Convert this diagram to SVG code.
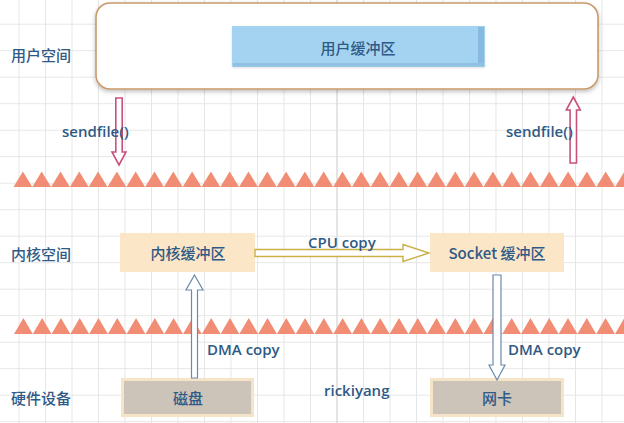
<svg xmlns="http://www.w3.org/2000/svg" width="624" height="423" viewBox="0 0 624 423">
<defs>
<pattern id="grid" patternUnits="userSpaceOnUse" x="18.5" y="-2.8" width="26.5" height="26.5">
<path d="M0.5 0V26.5M0 0.5H26.5" stroke="#e6e6e6" stroke-width="1" fill="none"/>
</pattern>
<filter id="sh" x="-5%" y="-10%" width="110%" height="130%">
<feDropShadow dx="0" dy="2" stdDeviation="2" flood-color="#000" flood-opacity="0.25"/>
</filter>
<filter id="sh2" x="-5%" y="-10%" width="110%" height="130%">
<feDropShadow dx="0" dy="1" stdDeviation="1" flood-color="#000" flood-opacity="0.12"/>
</filter>
</defs>
<style>
text{font-family:"Open Sans","Noto Sans CJK SC",sans-serif;fill:#2f5a85;font-size:15px}
.cn{font-family:"Noto Sans CJK SC",sans-serif;font-weight:500;font-size:15px}
.en{font-weight:600;font-size:15px}
.mid{text-anchor:middle;dominant-baseline:central}
.kern{fill:#fbe6c7}
.hw{fill:#ccc3b9;stroke:#f6e4c8;stroke-width:3}
.tri{fill:#f28d75}
.pink{fill:#fff;stroke:#c9517f;stroke-width:1.6}
.blue{fill:#fff;stroke:#6a8aab;stroke-width:1.2}
.yel{fill:#fff;stroke:#c9b14a;stroke-width:1.4}
</style>
<rect width="624" height="423" fill="#fff"/>
<rect width="624" height="423" fill="url(#grid)"/>
<line x1="337" y1="0" x2="337" y2="423" stroke="#d6d6d6" stroke-width="1"/>

<g id="boundaries">
<path class="tri" d="M13.5 187l9.4-15.5l9.4 15.5l9.4-15.5l9.4 15.5l9.4-15.5l9.4 15.5l9.4-15.5l9.4 15.5l9.4-15.5l9.4 15.5l9.4-15.5l9.4 15.5l9.4-15.5l9.4 15.5l9.4-15.5l9.4 15.5l9.4-15.5l9.4 15.5l9.4-15.5l9.4 15.5l9.4-15.5l9.4 15.5l9.4-15.5l9.4 15.5l9.4-15.5l9.4 15.5l9.4-15.5l9.4 15.5l9.4-15.5l9.4 15.5l9.4-15.5l9.4 15.5l9.4-15.5l9.4 15.5l9.4-15.5l9.4 15.5l9.4-15.5l9.4 15.5l9.4-15.5l9.4 15.5l9.4-15.5l9.4 15.5l9.4-15.5l9.4 15.5l9.4-15.5l9.4 15.5l9.4-15.5l9.4 15.5l9.4-15.5l9.4 15.5l9.4-15.5l9.4 15.5l9.4-15.5l9.4 15.5l9.4-15.5l9.4 15.5l9.4-15.5l9.4 15.5l9.4-15.5l9.4 15.5l9.4-15.5l9.4 15.5l9.4-15.5l9.4 15.5l9.4-15.5l9.4 15.5z"/>
<path class="tri" d="M14 334l9.39-16l9.39 16l9.39-16l9.39 16l9.39-16l9.39 16l9.39-16l9.39 16l9.39-16l9.39 16l9.39-16l9.39 16l9.39-16l9.39 16l9.39-16l9.39 16l9.39-16l9.39 16l9.39-16l9.39 16l9.39-16l9.39 16l9.39-16l9.39 16l9.39-16l9.39 16l9.39-16l9.39 16l9.39-16l9.39 16l9.39-16l9.39 16l9.39-16l9.39 16l9.39-16l9.39 16l9.39-16l9.39 16l9.39-16l9.39 16l9.39-16l9.39 16l9.39-16l9.39 16l9.39-16l9.39 16l9.39-16l9.39 16l9.39-16l9.39 16l9.39-16l9.39 16l9.39-16l9.39 16l9.39-16l9.39 16l9.39-16l9.39 16l9.39-16l9.39 16l9.39-16l9.39 16l9.39-16l9.39 16l9.39-16l9.39 16l9.39-16l9.39 16l9.39-16l9.39 16z"/>
</g>

<g id="user-space">
<rect x="96" y="3" width="502" height="86" rx="14" fill="#fff" stroke="#c99a6b" stroke-width="1.6" filter="url(#sh)"/>
</g>

<g id="user-buffer">
<rect x="232" y="26" width="253" height="41" fill="#a3d3f1" filter="url(#sh2)"/>
<rect x="478" y="27" width="6" height="39" fill="#86bade"/>
<rect x="233" y="63" width="251" height="3.5" fill="#8fc1e3"/>
<text class="cn mid" x="358" y="47">用户缓冲区</text>
</g>

<g id="kernel-buffer">
<rect class="kern" x="120" y="233" width="135" height="39"/>
<text class="cn mid" x="188" y="252.5">内核缓冲区</text>
</g>

<g id="socket-buffer">
<rect class="kern" x="430" y="233" width="134" height="39"/>
<text class="cn mid" x="497" y="252.5">Socket 缓冲区</text>
</g>

<g id="disk">
<rect class="hw" x="122.5" y="379.5" width="130" height="36"/>
<text class="cn mid" x="188" y="397.5">磁盘</text>
</g>

<g id="nic">
<rect class="hw" x="431.5" y="379.5" width="131" height="36"/>
<text class="cn mid" x="497" y="397.5">网卡</text>
</g>

<g id="connectors">
<polygon class="pink" points="115.8,98 122.2,98 122.2,152 126,152 119,165 112,152 115.8,152"/>
<polygon class="pink" points="573.3,97 580.3,110 576.5,110 576.5,163 570.1,163 570.1,110 566.3,110"/>
<polygon class="yel" points="255,249.5 403,249.5 403,244.5 429,253 403,261.5 403,256.5 255,256.5"/>
<polygon class="blue" points="194.5,275 203,290 197.5,290 197.5,378 191.5,378 191.5,290 186,290"/>
<polygon class="blue" points="493,275 501,275 501,365 505,365 497,380 489,365 493,365"/>
</g>

<g id="labels">
<text class="cn" x="11" y="54" dominant-baseline="central">用户空间</text>
<text class="cn" x="11" y="253" dominant-baseline="central">内核空间</text>
<text class="cn" x="11" y="397" dominant-baseline="central">硬件设备</text>
<text class="en" x="62" y="137">sendfile()</text>
<text class="en" x="506" y="137">sendfile()</text>
<text class="en" x="308" y="247.5">CPU copy</text>
<text class="en" x="207" y="355">DMA copy</text>
<text class="en" x="508" y="355">DMA copy</text>
<text class="en" x="324" y="396">rickiyang</text>
</g>
</svg>
